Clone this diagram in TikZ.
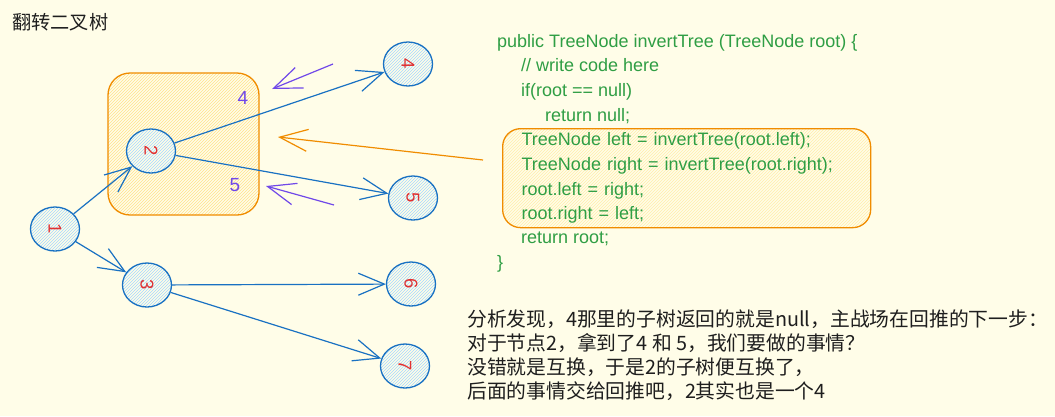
\documentclass[tikz,border=0pt]{standalone}
\usepackage{fontspec}
\setmainfont{Liberation Sans}
\newfontfamily\cjkfont{Noto Sans CJK SC}
\usetikzlibrary{arrows.meta,patterns,shapes.geometric}

\definecolor{paper}{HTML}{FFFDE8}
\definecolor{treeblue}{HTML}{1971C2}
\definecolor{hatchblue}{HTML}{A5D8FF}
\definecolor{numred}{HTML}{E03131}
\definecolor{frameorange}{HTML}{F08C00}
\definecolor{hatchyellow}{HTML}{FFE38A}
\definecolor{hatchpale}{HTML}{FFEEAA}
\definecolor{notepurple}{HTML}{7048E8}
\definecolor{codegreen}{HTML}{2F9E44}
\definecolor{ink}{HTML}{1E1E1E}

\tikzset{
  treenode/.style={ellipse, draw=treeblue, line width=1.3pt,
    minimum width=49pt, minimum height=44pt, inner sep=0pt,
    preaction={fill=paper}, pattern=north east lines, pattern color=hatchblue,
    text=numred, font=\fontsize{18.5}{18.5}\selectfont},
  link/.style={draw=treeblue, line width=1.2pt, -{Straight Barb[length=26pt,width=22pt]}},
  hint/.style={draw=notepurple, line width=1.2pt, -{Straight Barb[length=28pt,width=22pt]}},
  codetext/.style={text=codegreen, align=left, inner sep=0pt,
    font=\fontsize{18}{24.7}\selectfont},
  note/.style={text=ink, align=left, inner sep=0pt,
    font=\cjkfont\fontsize{19.8}{23.7}\selectfont}
}

\begin{document}
\begin{tikzpicture}[x=1pt, y=-1pt]
  \fill[paper] (0,0) rectangle (1055,416);
  \useasboundingbox (0,0) rectangle (1055,416);

  % title
  \node[note, anchor=west] (title) at (12,22) {\fontsize{19.2}{19.2}\selectfont 翻转二叉树};

  % frame round subtree 2
  \node[draw=frameorange, line width=1.3pt, rounded corners=22pt,
    minimum width=151pt, minimum height=142pt,
    preaction={fill=paper}, pattern=north east lines, pattern color=hatchyellow]
    (frame) at (183.5,144) {};
  \node[text=notepurple, font=\fontsize{19}{19}\selectfont] (mark4) at (243,98) {4};
  \node[text=notepurple, font=\fontsize{19}{19}\selectfont] (mark5) at (235,185) {5};

  % tree
  \node[treenode] (n1) at (55,229) {\rotatebox{-90}{1}};
  \node[treenode] (n2) at (151,151) {\rotatebox{-90}{2}};
  \node[treenode] (n3) at (147,285) {\rotatebox{-90}{3}};
  \node[treenode] (n4) at (408,64) {\rotatebox{-90}{4}};
  \node[treenode] (n5) at (413,198) {\rotatebox{-90}{5}};
  \node[treenode] (n6) at (411,284) {\rotatebox{-90}{6}};
  \node[treenode] (n7) at (405,366) {\rotatebox{-90}{7}};

  \draw[link] (n1) -- (n2);
  \draw[link] (n1) -- (n3);
  \draw[link] (n2) -- (n4);
  \draw[link] (n2) -- (n5);
  \draw[link] (n3) -- (n6);
  \draw[link] (n3) -- (n7);

  % swap hints
  \coordinate (hint4) at (333,64);
  \coordinate (hint4end) at (272,89);
  \coordinate (hint5) at (334,205);
  \coordinate (hint5end) at (266,186);
  \draw[hint] (hint4) -- (hint4end);
  \draw[hint] (hint5) -- (hint5end);

  % code
  \node[codetext, anchor=north west] (codetop) at (497,34)
    {public TreeNode invertTree (TreeNode root) \{\\
     \hspace*{24pt}// write code here\\
     \hspace*{24pt}if(root == null)\\
     \hspace*{48pt}return null;};
  \node[codetext, anchor=north west, draw=frameorange, line width=1.3pt,
    rounded corners=18pt, text width=330pt, inner xsep=19pt, minimum height=99pt,
    preaction={fill=paper}, pattern=north east lines, pattern color=hatchpale]
    (swapblock) at (502,128)
    {TreeNode left = invertTree(root.left);\\
     TreeNode right = invertTree(root.right);\\
     root.left = right;\\
     root.right = left;};
  \node[codetext, anchor=north west] (codeend) at (497,232)
    {\hspace*{24pt}return root;\\
     \}};

  \coordinate (swapfrom) at (483,160);
  \coordinate (swapto) at (278,137);
  \draw[draw=frameorange, line width=1.2pt, -{Straight Barb[length=28pt,width=22pt]}]
    (swapfrom) -- (swapto);

  % notes
  \node[note, anchor=north west] (analysis) at (467,310)
    {分析发现，4那里的子树返回的就是null，主战场在回推的下一步：\\
     对于节点2，拿到了4 和 5，我们要做的事情？\\
     没错就是互换，于是2的子树便互换了，\\
     后面的事情交给回推吧，2其实也是一个4};
\end{tikzpicture}
\end{document}
